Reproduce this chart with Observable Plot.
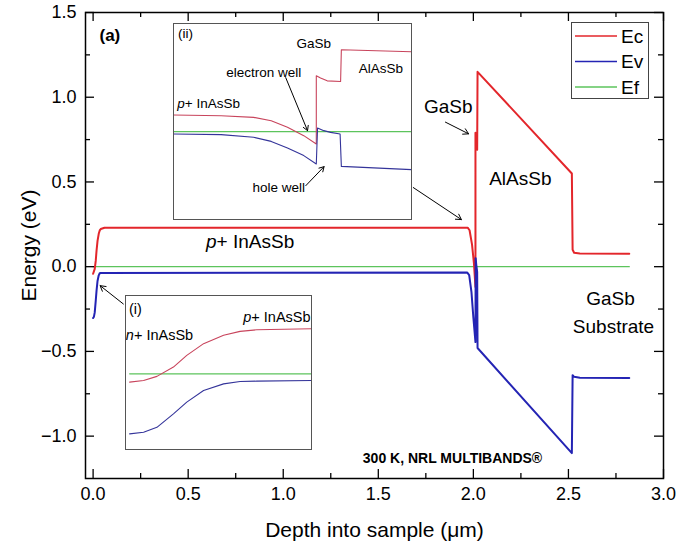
<!DOCTYPE html>
<html><head><meta charset="utf-8">
<script src="https://cdn.jsdelivr.net/npm/d3@7"></script>
<script src="https://cdn.jsdelivr.net/npm/@observablehq/plot@0.6"></script>
<style>
body{margin:0;background:#fff;}
#wrap{position:relative;width:679px;height:552px;font-family:"Liberation Sans",Arial,sans-serif;}
#wrap > svg{position:absolute;}
</style></head><body><div id="wrap"></div>
<script>
// ---------- series ----------
const seriesNames  = ["Ec", "Ev", "Ef"];
const seriesColors = ["#e3262b", "#2424b4", "#5cc45c"];

// main band diagram (depth in µm, energy in eV)
const mainEcDepth  = [0, 0.0086, 0.0138, 0.018, 0.0233, 0.0296, 0.0348, 0.0401, 0.06, 1.97, 1.98, 1.993, 2.003, 2.011, 2.011, 2.016, 2.02, 2.022, 2.518, 2.522, 2.53, 2.56, 2.82];
const mainEcEnergy = [-0.042, -0.013, 0.034, 0.093, 0.152, 0.194, 0.214, 0.222, 0.23, 0.23, 0.215, 0.13, 0.02, -0.12, 0.79, 0.71, 0.69, 1.15, 0.55, 0.10, 0.082, 0.078, 0.077];
const mainEvDepth  = [0, 0.0044, 0.0086, 0.0138, 0.018, 0.0233, 0.0296, 0.0348, 0.0401, 1.968, 1.978, 1.99, 2.0, 2.011, 2.012, 2.015, 2.02, 2.022, 2.518, 2.522, 2.53, 2.56, 2.82];
const mainEvEnergy = [-0.303, -0.295, -0.27, -0.202, -0.143, -0.084, -0.051, -0.039, -0.037, -0.035, -0.05, -0.15, -0.3, -0.445, 0.05, 0.014, -0.03, -0.48, -1.10, -0.64, -0.65, -0.655, -0.657];
const mainEfDepth  = [0, 2.82];
const mainEfEnergy = [0, 0];

// inset (i): n+/p+ InAsSb junction
const ins1Depth = [0, 0.0044, 0.0086, 0.0138, 0.018, 0.0233, 0.0296, 0.0348, 0.0401, 0.0573];
const ins1Ec    = [-0.042, -0.034, -0.013, 0.034, 0.093, 0.152, 0.194, 0.214, 0.222, 0.227];
const ins1Ev    = [-0.303, -0.295, -0.27, -0.202, -0.143, -0.084, -0.051, -0.039, -0.037, -0.034];
const ins1Ef    = [0, 0, 0, 0, 0, 0, 0, 0, 0, 0];

// inset (ii): InAsSb / GaSb / AlAsSb interface
const ins2EcDepth  = [1.886, 1.924, 1.95, 1.964, 1.977, 1.99, 2.0, 2.0, 2.0034, 2.0087, 2.0194, 2.02, 2.076];
const ins2EcEnergy = [0.23, 0.22, 0.197, 0.15, 0.06, -0.055, -0.17, 0.771, 0.74, 0.70, 0.69, 1.129, 1.10];
const ins2EvDepth  = [1.886, 1.924, 1.95, 1.964, 1.977, 1.99, 2.0, 2.001, 2.006, 2.0114, 2.019, 2.02, 2.076];
const ins2EvEnergy = [-0.032, -0.041, -0.078, -0.134, -0.225, -0.33, -0.445, 0.051, 0.014, -0.01, -0.032, -0.478, -0.523];
const ins2EfDepth  = [1.886, 2.076];
const ins2EfEnergy = [0, 0];

// axes
const xTicks = [0, 0.5, 1.0, 1.5, 2.0, 2.5, 3.0];
const xMinor = [0.25, 0.75, 1.25, 1.75, 2.25, 2.75];
const yTicks = [-1.0, -0.5, 0.0, 0.5, 1.0, 1.5];
const yMinor = [-0.75, -0.25, 0.25, 0.75, 1.25];
const xTitle = "Depth into sample (μm)";
const yTitle = "Energy (eV)";

// annotations (main chart)
const mainLabelText = ["GaSb", "AlAsSb", "p+ InAsSb", "GaSb", "Substrate"];
const mainLabelX    = [1.868, 2.247, 0.826, 2.721, 2.737];
const mainLabelY    = [0.94, 0.52, 0.148, -0.189, -0.355];
const arrowX1 = [1.684, 1.853, 0.159];
const arrowY1 = [0.467, 0.853, -0.220];
const arrowX2 = [1.937, 1.975, 0.037];
const arrowY2 = [0.278, 0.784, -0.112];
// inset annotations
const ins1LabelText = ["(i)", "p+ InAsSb"];
const ins1LabelX = [0.0018, 0.0464];
const ins1LabelY = [0.325, 0.284];
const ins1LeftLabel = ["n+ InAsSb"];
const ins1LeftX = [-0.0012];
const ins1LeftY = [0.192];
const ins2LabelText = ["(ii)", "GaSb", "AlAsSb", "electron well", "p+ InAsSb", "hole well"];
const ins2LabelX = [1.8956, 1.998, 2.0516, 1.958, 1.914, 1.97];
const ins2LabelY = [1.35, 1.212, 0.868, 0.813, 0.386, -0.771];
const ins2ArrowX1 = [1.9756, 1.9916];
const ins2ArrowY1 = [0.744, -0.744];
const ins2ArrowX2 = [1.993, 2.0062];
const ins2ArrowY2 = [0.014, -0.482];

// ---------- helpers ----------
const FONT = '"Liberation Sans", Arial, sans-serif';
const pts = (xs, ys) => xs.map((x, i) => ({x, y: ys[i]}));
const col = n => seriesColors[seriesNames.indexOf(n)];
function italicizeLead(svg) {
  d3.select(svg).selectAll("text").each(function () {
    const t = this.textContent;
    if (/^[pn]\+/.test(t) && this.childElementCount === 0) {
      this.textContent = "";
      const s = d3.select(this);
      s.append("tspan").attr("font-style", "italic").text(t[0]);
      s.append("tspan").text(t.slice(1));
    }
  });
}
const wrap = document.getElementById("wrap");

// ---------- main chart ----------
const W = 679, H = 552, mL = 85, mR = 16, mT = 12, mB = 74;
const innerW = W - mL - mR, innerH = H - mT - mB;

const mainLabels = mainLabelText.map((t, i) => ({t, x: mainLabelX[i], y: mainLabelY[i]}));
const arrows = arrowX1.map((d, i) => ({x1: d, y1: arrowY1[i], x2: arrowX2[i], y2: arrowY2[i]}));

const main = Plot.plot({
  width: W, height: H,
  marginLeft: mL, marginRight: mR, marginTop: mT, marginBottom: mB,
  x: {domain: [-0.04, 3.0], label: null},
  y: {domain: [-1.25, 1.5], label: null},
  style: {fontFamily: FONT, color: "black", background: "white", overflow: "visible"},
  marks: [
    Plot.line(pts(mainEfDepth, mainEfEnergy), {x: "x", y: "y", stroke: col("Ef"), strokeWidth: 1.3}),
    Plot.line(pts(mainEcDepth, mainEcEnergy), {x: "x", y: "y", stroke: col("Ec"), strokeWidth: 2}),
    Plot.line(pts(mainEvDepth, mainEvEnergy), {x: "x", y: "y", stroke: col("Ev"), strokeWidth: 2}),
    Plot.frame({stroke: "black", strokeWidth: 1.5}),
    // inward ticks on all four sides
    Plot.tickX(xTicks, {x: d => d, insetTop: innerH - 9, stroke: "black", strokeWidth: 1.3}),
    Plot.tickX(xTicks, {x: d => d, insetBottom: innerH - 9, stroke: "black", strokeWidth: 1.3}),
    Plot.tickX(xMinor, {x: d => d, insetTop: innerH - 5, stroke: "black", strokeWidth: 1.3}),
    Plot.tickX(xMinor, {x: d => d, insetBottom: innerH - 5, stroke: "black", strokeWidth: 1.3}),
    Plot.tickY(yTicks, {y: d => d, insetRight: innerW - 9, stroke: "black", strokeWidth: 1.3}),
    Plot.tickY(yTicks, {y: d => d, insetLeft: innerW - 9, stroke: "black", strokeWidth: 1.3}),
    Plot.tickY(yMinor, {y: d => d, insetRight: innerW - 5, stroke: "black", strokeWidth: 1.3}),
    Plot.tickY(yMinor, {y: d => d, insetLeft: innerW - 5, stroke: "black", strokeWidth: 1.3}),
    Plot.axisX(xTicks, {tickSize: 0, tickPadding: 9, tickFormat: d3.format(".1f"), fontSize: 18, label: null}),
    Plot.axisY(yTicks, {tickSize: 0, tickPadding: 9, tickFormat: d3.format(".1f"), fontSize: 18, label: null}),
    Plot.text([xTitle], {frameAnchor: "bottom", dy: 52, text: d => d, fontSize: 21, textAnchor: "middle", lineAnchor: "middle"}),
    Plot.text([yTitle], {frameAnchor: "left", dx: -56, rotate: -90, text: d => d, fontSize: 21, textAnchor: "middle", lineAnchor: "middle"}),
    Plot.text(["(a)"], {frameAnchor: "top-left", dx: 14, dy: 16, text: d => d, fontSize: 17, fontWeight: "bold", textAnchor: "start", lineAnchor: "top"}),
    Plot.text(mainLabels, {x: "x", y: "y", text: "t", fontSize: 19}),
    Plot.text(["300 K, NRL MULTIBANDS®"], {frameAnchor: "bottom", dx: 78, dy: -20, text: d => d, fontSize: 14, fontWeight: "bold", textAnchor: "middle", lineAnchor: "middle"}),
    Plot.arrow(arrows, {x1: "x1", y1: "y1", x2: "x2", y2: "y2", stroke: "black", strokeWidth: 1, headLength: 9})
  ]
});
italicizeLead(main);
main.style.left = "0px"; main.style.top = "0px";
wrap.appendChild(main);

// ---------- inset (i) ----------
const ins1 = Plot.plot({
  width: 188, height: 156, margin: 1,
  x: {domain: [-0.0013, 0.0573], axis: null},
  y: {domain: [-0.382, 0.395], axis: null},
  style: {fontFamily: FONT, background: "white"},
  marks: [
    Plot.line(pts(ins1Depth, ins1Ef), {x: "x", y: "y", stroke: col("Ef"), strokeWidth: 1.2}),
    Plot.line(pts(ins1Depth, ins1Ec), {x: "x", y: "y", stroke: "#c8445c", strokeWidth: 1.1}),
    Plot.line(pts(ins1Depth, ins1Ev), {x: "x", y: "y", stroke: "#34349a", strokeWidth: 1.1}),
    Plot.text(ins1LabelText.map((t, i) => ({t, x: ins1LabelX[i], y: ins1LabelY[i]})),
      {x: "x", y: "y", text: "t", fontSize: 14.5}),
    Plot.text(ins1LeftLabel.map((t, i) => ({t, x: ins1LeftX[i], y: ins1LeftY[i]})),
      {x: "x", y: "y", text: "t", fontSize: 14.5, textAnchor: "start"}),
    Plot.frame({stroke: "#555", strokeWidth: 1})
  ]
});
italicizeLead(ins1);
ins1.style.left = "124px"; ins1.style.top = "294px";
wrap.appendChild(ins1);

// ---------- inset (ii) ----------
const ins2 = Plot.plot({
  width: 240, height: 198, margin: 1,
  x: {domain: [1.886, 2.076], axis: null},
  y: {domain: [-1.21, 1.49], axis: null},
  style: {fontFamily: FONT, background: "white"},
  marks: [
    Plot.line(pts(ins2EfDepth, ins2EfEnergy), {x: "x", y: "y", stroke: col("Ef"), strokeWidth: 1.2}),
    Plot.line(pts(ins2EcDepth, ins2EcEnergy), {x: "x", y: "y", stroke: "#c8445c", strokeWidth: 1.1}),
    Plot.line(pts(ins2EvDepth, ins2EvEnergy), {x: "x", y: "y", stroke: "#34349a", strokeWidth: 1.1}),
    Plot.text(ins2LabelText.map((t, i) => ({t, x: ins2LabelX[i], y: ins2LabelY[i]})),
      {x: "x", y: "y", text: "t", fontSize: 13.5}),
    Plot.arrow(ins2ArrowX1.map((d, i) => ({x1: d, y1: ins2ArrowY1[i], x2: ins2ArrowX2[i], y2: ins2ArrowY2[i]})),
      {x1: "x1", y1: "y1", x2: "x2", y2: "y2", stroke: "black", strokeWidth: 1, headLength: 8}),
    Plot.frame({stroke: "#555", strokeWidth: 1})
  ]
});
italicizeLead(ins2);
ins2.style.left = "172px"; ins2.style.top = "22px";
wrap.appendChild(ins2);

// ---------- legend ----------
const leg = d3.create("svg").attr("width", 79).attr("height", 78)
  .style("left", "571px").style("top", "22px").style("position", "absolute");
leg.append("rect").attr("x", 0.5).attr("y", 0.5).attr("width", 77).attr("height", 76)
  .attr("fill", "white").attr("stroke", "#444").attr("stroke-width", 1);
seriesNames.forEach((n, i) => {
  const yy = 14 + i * 25.5;
  leg.append("line").attr("x1", 4).attr("x2", 46).attr("y1", yy).attr("y2", yy)
    .attr("stroke", seriesColors[i]).attr("stroke-width", 1.3);
  leg.append("text").attr("x", 50).attr("y", yy).attr("dy", "0.35em")
    .attr("font-family", FONT).attr("font-size", 19).text(n);
});
wrap.appendChild(leg.node());
</script>
</body></html>
